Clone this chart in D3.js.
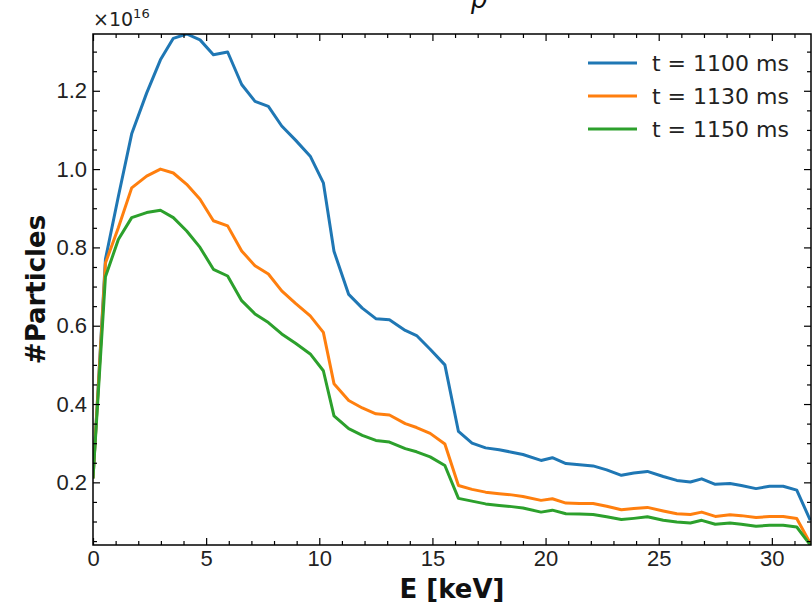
<!DOCTYPE html>
<html>
<head>
<meta charset="utf-8">
<script src="https://cdn.jsdelivr.net/npm/d3@7"></script>
<style>
  body { margin: 0; background: #fff; }
  svg { font-family: "DejaVu Sans", sans-serif; }
</style>
</head>
<body>
<svg id="chart"></svg>
<script>
// energy bins (keV)
const energy = [0, 0.55, 1.12, 1.71, 2.37, 2.98, 3.55, 4.14, 4.73, 5.32, 5.95, 6.57, 7.16, 7.75, 8.34, 8.95, 9.6, 10.18, 10.65, 11.3,
  11.9, 12.5, 13.1, 13.8, 14.3, 14.9, 15.55, 16.15, 16.75, 17.35, 17.95, 18.5, 19.0, 19.8, 20.3, 20.9, 21.5, 22.1, 22.7, 23.35,
  23.9, 24.5, 25.2, 25.8, 26.4, 26.9, 27.5, 28.15, 28.65, 29.3, 29.9, 30.5, 31.1, 31.7];
// particle counts, units of 1e16
const t1100 = [0.21, 0.77, 0.93, 1.09, 1.194, 1.279, 1.334, 1.345, 1.33, 1.292, 1.299, 1.216, 1.173, 1.16, 1.11, 1.074, 1.033, 0.965, 0.79, 0.68,
  0.645, 0.618, 0.615, 0.588, 0.575, 0.54, 0.50, 0.33, 0.30, 0.288, 0.283, 0.277, 0.271, 0.256, 0.263, 0.248, 0.245, 0.242, 0.232, 0.218,
  0.224, 0.228, 0.215, 0.205, 0.201, 0.209, 0.195, 0.197, 0.192, 0.184, 0.19, 0.19, 0.18, 0.103];
const t1130 = [0.21, 0.76, 0.85, 0.952, 0.982, 1.0, 0.99, 0.961, 0.923, 0.868, 0.855, 0.791, 0.753, 0.732, 0.689, 0.657, 0.625, 0.583, 0.452, 0.409,
  0.39, 0.375, 0.372, 0.35, 0.34, 0.325, 0.298, 0.192, 0.182, 0.175, 0.171, 0.168, 0.164, 0.154, 0.158, 0.147, 0.146, 0.146, 0.139, 0.130,
  0.133, 0.136, 0.127, 0.120, 0.118, 0.124, 0.113, 0.117, 0.115, 0.110, 0.113, 0.113, 0.1075, 0.044];
const t1150 = [0.21, 0.725, 0.82, 0.876, 0.889, 0.895, 0.876, 0.842, 0.80, 0.744, 0.727, 0.664, 0.63, 0.608, 0.579, 0.555, 0.528, 0.485, 0.37, 0.337,
  0.32, 0.307, 0.303, 0.286, 0.278, 0.265, 0.243, 0.159, 0.152, 0.145, 0.141, 0.138, 0.1345, 0.124, 0.129, 0.120, 0.119, 0.118, 0.112, 0.105,
  0.108, 0.112, 0.103, 0.099, 0.096, 0.103, 0.093, 0.096, 0.093, 0.088, 0.0905, 0.0905, 0.086, 0.04];

const seriesNames = ["t = 1100 ms", "t = 1130 ms", "t = 1150 ms"];
const colors = ["#1f77b4", "#ff7f0e", "#2ca02c"];
const xTicks = [0, 5, 10, 15, 20, 25, 30];
const yTicks = [0.2, 0.4, 0.6, 0.8, 1.0, 1.2];

var width = 812, height = 603;
var m = {left: 93, right: 1, top: 34, bottom: 58};

var svg = d3.select("#chart").attr("width", width).attr("height", height);

var x = d3.scaleLinear().domain([0, 31.73]).range([m.left, width - m.right]);
var y = d3.scaleLinear().domain([0.04, 1.345]).range([height - m.bottom, m.top]);

svg.append("clipPath").attr("id", "clip")
  .append("rect")
  .attr("x", x.range()[0]).attr("y", y.range()[1])
  .attr("width", x.range()[1] - x.range()[0])
  .attr("height", y.range()[0] - y.range()[1]);

// lines
var line = d3.line().x((d, i) => x(energy[i])).y(d => y(d));
[t1100, t1130, t1150].forEach((s, i) => {
  svg.append("path")
    .datum(s)
    .attr("clip-path", "url(#clip)")
    .attr("fill", "none")
    .attr("stroke", colors[i])
    .attr("stroke-width", 3)
    .attr("stroke-linejoin", "round")
    .attr("d", line);
});

// axes, ticks pointing inwards on every side
var xMinor = d3.range(0, 32, 1).filter(v => v % 5 != 0);
var yMinor = d3.range(0.05, 1.345, 0.05).filter(v => Math.abs(v * 5 - Math.round(v * 5)) > 1e-6);
var B = y.range()[0], T = y.range()[1], L = x.range()[0], R = x.range()[1];

function styleAxis(g) {
  g.select(".domain").remove();
  g.selectAll("line").attr("stroke", "#000").attr("stroke-width", 1.2);
  g.selectAll("text").attr("fill", "#222").style("font-size", "22px");
}

svg.append("g").attr("transform", `translate(0,${B})`)
  .call(d3.axisBottom(x).tickValues(xTicks).tickSize(-7).tickPadding(5).tickFormat(d3.format("d")))
  .call(styleAxis);
svg.append("g").attr("transform", `translate(0,${B})`)
  .call(d3.axisBottom(x).tickValues(xMinor).tickSize(-4).tickFormat(""))
  .call(styleAxis);
svg.append("g").attr("transform", `translate(0,${T})`)
  .call(d3.axisTop(x).tickValues(xTicks).tickSize(-7).tickFormat(""))
  .call(styleAxis);
svg.append("g").attr("transform", `translate(0,${T})`)
  .call(d3.axisTop(x).tickValues(xMinor).tickSize(-4).tickFormat(""))
  .call(styleAxis);

svg.append("g").attr("transform", `translate(${L},0)`)
  .call(d3.axisLeft(y).tickValues(yTicks).tickSize(-7).tickPadding(6).tickFormat(d3.format(".1f")))
  .call(styleAxis);
svg.append("g").attr("transform", `translate(${L},0)`)
  .call(d3.axisLeft(y).tickValues(yMinor).tickSize(-4).tickFormat(""))
  .call(styleAxis);
svg.append("g").attr("transform", `translate(${R},0)`)
  .call(d3.axisRight(y).tickValues(yTicks).tickSize(-7).tickFormat(""))
  .call(styleAxis);
svg.append("g").attr("transform", `translate(${R},0)`)
  .call(d3.axisRight(y).tickValues(yMinor).tickSize(-4).tickFormat(""))
  .call(styleAxis);

// frame
svg.append("rect")
  .attr("x", L).attr("y", T).attr("width", R - L).attr("height", B - T)
  .attr("fill", "none").attr("stroke", "#000").attr("stroke-width", 1.5);

// offset text
var off = svg.append("text").attr("x", L).attr("y", 26).attr("fill", "#222").style("font-size", "19px");
off.append("tspan").text("×10");
off.append("tspan").attr("dy", -8).style("font-size", "13px").text("16");

// axis labels
svg.append("text")
  .attr("x", (L + R) / 2).attr("y", 598)
  .attr("text-anchor", "middle").attr("font-weight", "bold")
  .style("font-size", "26px").attr("fill", "#111")
  .text("E [keV]");
svg.append("text")
  .attr("transform", `translate(45,${(T + B) / 2}) rotate(-90)`)
  .attr("text-anchor", "middle").attr("font-weight", "bold")
  .style("font-size", "26px").attr("fill", "#111")
  .text("#Particles");

// title, cut off at the top of the picture
svg.append("text")
  .attr("x", 471).attr("y", 8)
  .attr("font-style", "italic").style("font-size", "26px").attr("fill", "#111")
  .text("p");

// legend
var leg = svg.append("g").attr("transform", "translate(588,63)");
seriesNames.forEach((n, i) => {
  var row = leg.append("g").attr("transform", `translate(0,${i * 33})`);
  row.append("line").attr("x1", 0).attr("x2", 49).attr("y1", 0).attr("y2", 0)
    .attr("stroke", colors[i]).attr("stroke-width", 3);
  row.append("text").attr("x", 64).attr("y", 8)
    .attr("fill", "#222").style("font-size", "22px").text(n);
});
</script>
</body>
</html>
